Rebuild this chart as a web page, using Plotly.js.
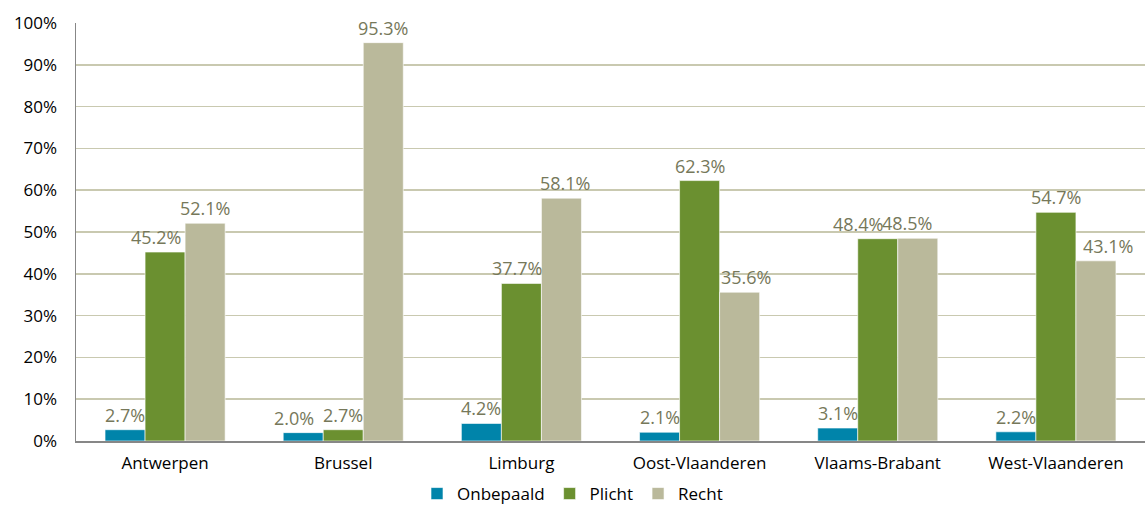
<!DOCTYPE html>
<html><head><meta charset="utf-8">
<script src="https://cdn.plot.ly/plotly-3.0.1.min.js"></script>
<style>body{margin:0;}#chart{width:1145px;height:512px;}</style>
</head><body><div id="chart"></div>
<script>
const categories = ["Antwerpen","Brussel","Limburg","Oost-Vlaanderen","Vlaams-Brabant","West-Vlaanderen"];
const seriesNames = ["Onbepaald","Plicht","Recht"];
const onbepaald = [2.7, 2.0, 4.2, 2.1, 3.1, 2.2];
const plicht = [45.2, 2.7, 37.7, 62.3, 48.4, 54.7];
const recht = [52.1, 95.3, 58.1, 35.6, 48.5, 43.1];
const tickVals = [0,10,20,30,40,50,60,70,80,90,100];
const tickText = tickVals.map(v => v + "%");

// label nudges (px) to mimic the original's overlap avoidance
const labelNudge = [
  [0, -9, 0, 0, 0, 0],
  [-9, 0, -4, 0, -20, 0],
  [0, 0, 4, 6, -11, 12]
];

const font = "'Open Sans', 'Noto Sans', sans-serif";
const colors = ['#0084aa', '#6b9030', '#bab99b'];
const allVals = [onbepaald, plicht, recht];
const M = {l:76, r:0, t:23, b:71};
const W = 1145, bargap = 0.326;
const barPx = (W - M.l - M.r) / categories.length * (1 - bargap) / 3;

const data = allVals.map((vals, s) => ({
  type:'bar', name:seriesNames[s], x:categories, y:vals,
  marker:{color:colors[s], line:{color:'rgba(255,255,255,0.6)', width:1}},
  hoverinfo:'none'
}));
const annotations = [];
allVals.forEach((vals, s) => vals.forEach((v, i) => {
  annotations.push({x:categories[i], y:v, xref:'x', yref:'y', text:v.toFixed(1)+'%', showarrow:false,
    xanchor:'center', yanchor:'bottom', yshift:1, xshift:(s-1)*barPx + labelNudge[s][i],
    font:{color:'#76785a', size:18, family:font}});
}));
const layout = {
  width:W, height:512, margin:M,
  paper_bgcolor:'#fff', plot_bgcolor:'#fff',
  barmode:'group', bargap:bargap, bargroupgap:0,
  font:{family:font, size:17, color:'#000'},
  xaxis:{showline:true, linecolor:'#878787', linewidth:2, ticks:'', tickfont:{size:17}, ticklabelstandoff:6, automargin:false},
  yaxis:{range:[0,100], tickvals:tickVals, ticktext:tickText, showgrid:true, gridcolor:'#c9c9b0', gridwidth:1.5,
    showline:true, linecolor:'#878787', linewidth:1.5, zeroline:false, tickfont:{size:17}, ticks:'', ticklabelstandoff:14, automargin:false},
  showlegend:true,
  legend:{orientation:'h', x:0.5, xanchor:'center', xref:'container', yref:'container', y:-0.045, yanchor:'bottom', font:{size:17}, itemwidth:20, tracegroupgap:0},
  annotations:annotations
};
Plotly.newPlot('chart', data, layout, {displayModeBar:false, staticPlot:true});
</script></body></html>
